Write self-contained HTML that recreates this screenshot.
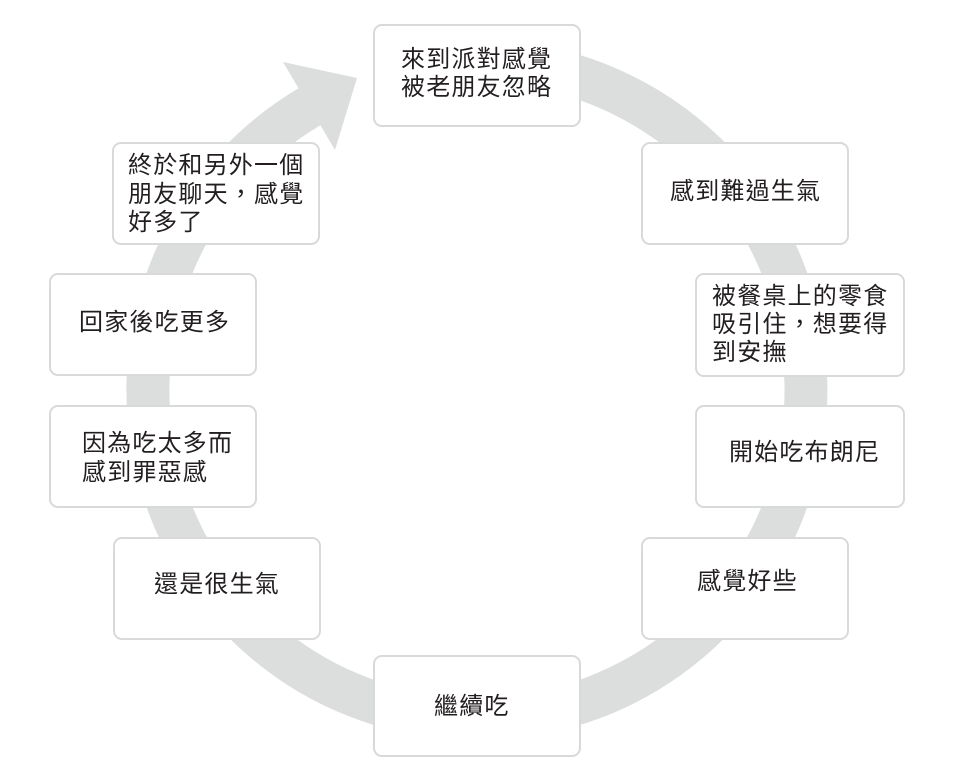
<!DOCTYPE html>
<html>
<head>
<meta charset="utf-8">
<style>
html,body{margin:0;padding:0;background:#fff;}
body{width:958px;height:776px;position:relative;overflow:hidden;}
svg{position:absolute;left:0;top:0;}
.b{position:absolute;box-sizing:border-box;background:#fff;border:2px solid #d8d9d9;border-radius:9px;}
.t{position:absolute;white-space:pre;font-family:"Liberation Sans","Noto Sans CJK TC",sans-serif;font-size:24px;letter-spacing:1.2px;line-height:28px;color:#231f20;}
</style>
</head>
<body>
<svg width="958" height="776" viewBox="0 0 958 776">
  <path d="M 419.9 66.0 A 329 329 0 1 1 309.5 106.8" fill="none" stroke="#dcdddd" stroke-width="43"/>
  <polygon points="283,62 357,78 335,150" fill="#dcdddd"/>
</svg>

<div class="b" style="left:373px;top:24px;width:208px;height:103px;"></div>
<div class="b" style="left:112px;top:142px;width:208px;height:103px;"></div>
<div class="b" style="left:641px;top:142px;width:208px;height:103px;"></div>
<div class="b" style="left:695px;top:273px;width:210px;height:104px;"></div>
<div class="b" style="left:49px;top:273px;width:208px;height:103px;"></div>
<div class="b" style="left:695px;top:405px;width:210px;height:103px;"></div>
<div class="b" style="left:49px;top:405px;width:208px;height:103px;"></div>
<div class="b" style="left:641px;top:537px;width:208px;height:103px;"></div>
<div class="b" style="left:113px;top:537px;width:208px;height:103px;"></div>
<div class="b" style="left:373px;top:655px;width:208px;height:102px;"></div>

<div class="t" style="left:401px;top:46px;">來到派對感覺
被老朋友忽略</div>
<div class="t" style="left:128px;top:152px;line-height:28.5px;">終於和另外一個
朋友聊天，感覺
好多了</div>
<div class="t" style="left:670px;top:178px;">感到難過生氣</div>
<div class="t" style="left:712px;top:283px;">被餐桌上的零食
吸引住，想要得
到安撫</div>
<div class="t" style="left:729px;top:439px;">開始吃布朗尼</div>
<div class="t" style="left:697px;top:568px;">感覺好些</div>
<div class="t" style="left:434px;top:693px;">繼續吃</div>
<div class="t" style="left:154px;top:571px;">還是很生氣</div>
<div class="t" style="left:82px;top:429px;line-height:29px;">因為吃太多而
感到罪惡感</div>
<div class="t" style="left:79px;top:309px;">回家後吃更多</div>
</body>
</html>
